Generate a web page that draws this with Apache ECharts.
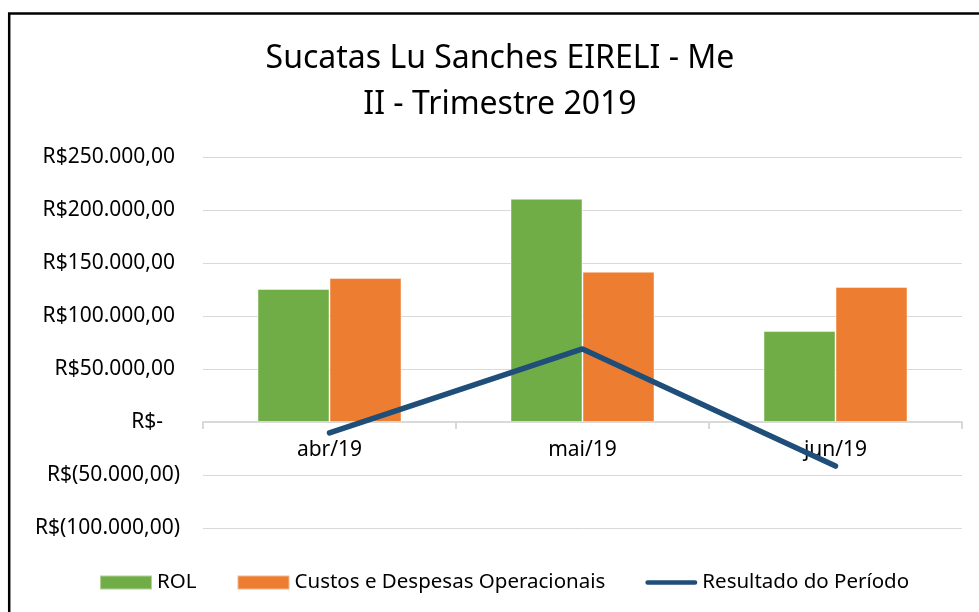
<!DOCTYPE html>
<html>
<head>
<meta charset="utf-8">
<title>Sucatas Lu Sanches EIRELI - Me</title>
<script src="https://cdn.jsdelivr.net/npm/echarts@6/dist/echarts.min.js"></script>
<style>
  html, body { margin: 0; padding: 0; background: #fff; }
  #main { width: 979px; height: 612px; }
</style>
</head>
<body>
<div id="main"></div>
<script>
// dados
const months = ['abr/19', 'mai/19', 'jun/19']
const rol = [125500, 210600, 85800]
const custos = [135800, 141800, 127400]
const resultado = [-10300, 68900, -41600]

const fontFamily = '"Noto Sans", sans-serif'

// formato contábil R$
function brl(v) {
  if (v === 0) return '{z|R$-}'
  const s = Math.abs(v).toFixed(2).split('.')
  const int = s[0].replace(/\B(?=(\d{3})+(?!\d))/g, '.')
  const txt = int + ',' + s[1]
  return v < 0 ? '{n|R$(' + txt + ')}' : '{p|R$' + txt + '}'
}

// ícone da legenda da linha: traço grosso com pontas arredondadas
const lineIcon = 'path://M2.5,0 L53.5,0 A2.5,2.5 0 0 1 53.5,5 L2.5,5 A2.5,2.5 0 0 1 2.5,0 Z'

const chart = echarts.init(document.getElementById('main'))
chart.setOption({
  animation: false,
  textStyle: { fontFamily: fontFamily },
  title: {
    text: 'Sucatas Lu Sanches EIRELI - Me\nII - Trimestre 2019',
    left: 500,
    textAlign: 'center',
    top: 36,
    padding: 0,
    textStyle: {
      fontFamily: fontFamily,
      fontSize: 32,
      fontWeight: 'normal',
      color: '#000',
      lineHeight: 46
    }
  },
  graphic: [{
    type: 'rect',
    shape: { x: 9.2, y: 13.6, width: 1100, height: 800 },
    style: { fill: 'none', stroke: '#000', lineWidth: 2.5 },
    silent: true
  }],
  grid: {
    left: 203,
    right: 17,
    top: 157,
    bottom: 84
  },
  legend: {
    left: 99,
    top: 572,
    padding: 0,
    itemWidth: 52,
    itemHeight: 14,
    itemGap: 40,
    textStyle: { fontFamily: fontFamily, fontSize: 20.5, color: '#000' },
    data: [
      { name: 'ROL', icon: 'rect' },
      { name: 'Custos e Despesas Operacionais', icon: 'rect' },
      { name: 'Resultado do Período', icon: lineIcon, itemStyle: { color: '#1f4e79' } }
    ]
  },
  xAxis: {
    type: 'category',
    data: months,
    axisLine: { onZero: true, lineStyle: { color: '#d9d9d9', width: 2 } },
    axisTick: { show: true, length: 7, lineStyle: { color: '#d9d9d9', width: 2 } },
    axisLabel: { fontSize: 21, color: '#000', margin: -88, fontFamily: fontFamily }
  },
  yAxis: {
    type: 'value',
    min: -100000,
    max: 250000,
    interval: 50000,
    axisLine: { show: false },
    axisTick: { show: false },
    splitLine: { lineStyle: { color: '#d9d9d9', width: 1 } },
    axisLabel: {
      margin: 23,
      formatter: brl,
      rich: {
        p: { fontSize: 21, color: '#000', fontFamily: fontFamily, padding: [0, 5, 0, 0] },
        n: { fontSize: 21, color: '#000', fontFamily: fontFamily },
        z: { fontSize: 21, color: '#000', fontFamily: fontFamily, padding: [0, 17, 0, 0] }
      }
    }
  },
  series: [
    {
      name: 'ROL',
      type: 'bar',
      data: rol,
      barWidth: 72,
      barGap: '0%',
      itemStyle: { color: '#70ad47', borderColor: 'rgba(255,255,255,0.45)', borderWidth: 1 }
    },
    {
      name: 'Custos e Despesas Operacionais',
      type: 'bar',
      data: custos,
      barWidth: 72,
      barGap: '0%',
      itemStyle: { color: '#ed7d31', borderColor: 'rgba(255,255,255,0.45)', borderWidth: 1 }
    },
    {
      name: 'Resultado do Período',
      type: 'line',
      data: resultado,
      symbol: 'none',
      z: 5,
      itemStyle: { color: '#1f4e79' },
      lineStyle: { color: '#1f4e79', width: 5.5, cap: 'round', join: 'round' }
    }
  ]
})
</script>
</body>
</html>
